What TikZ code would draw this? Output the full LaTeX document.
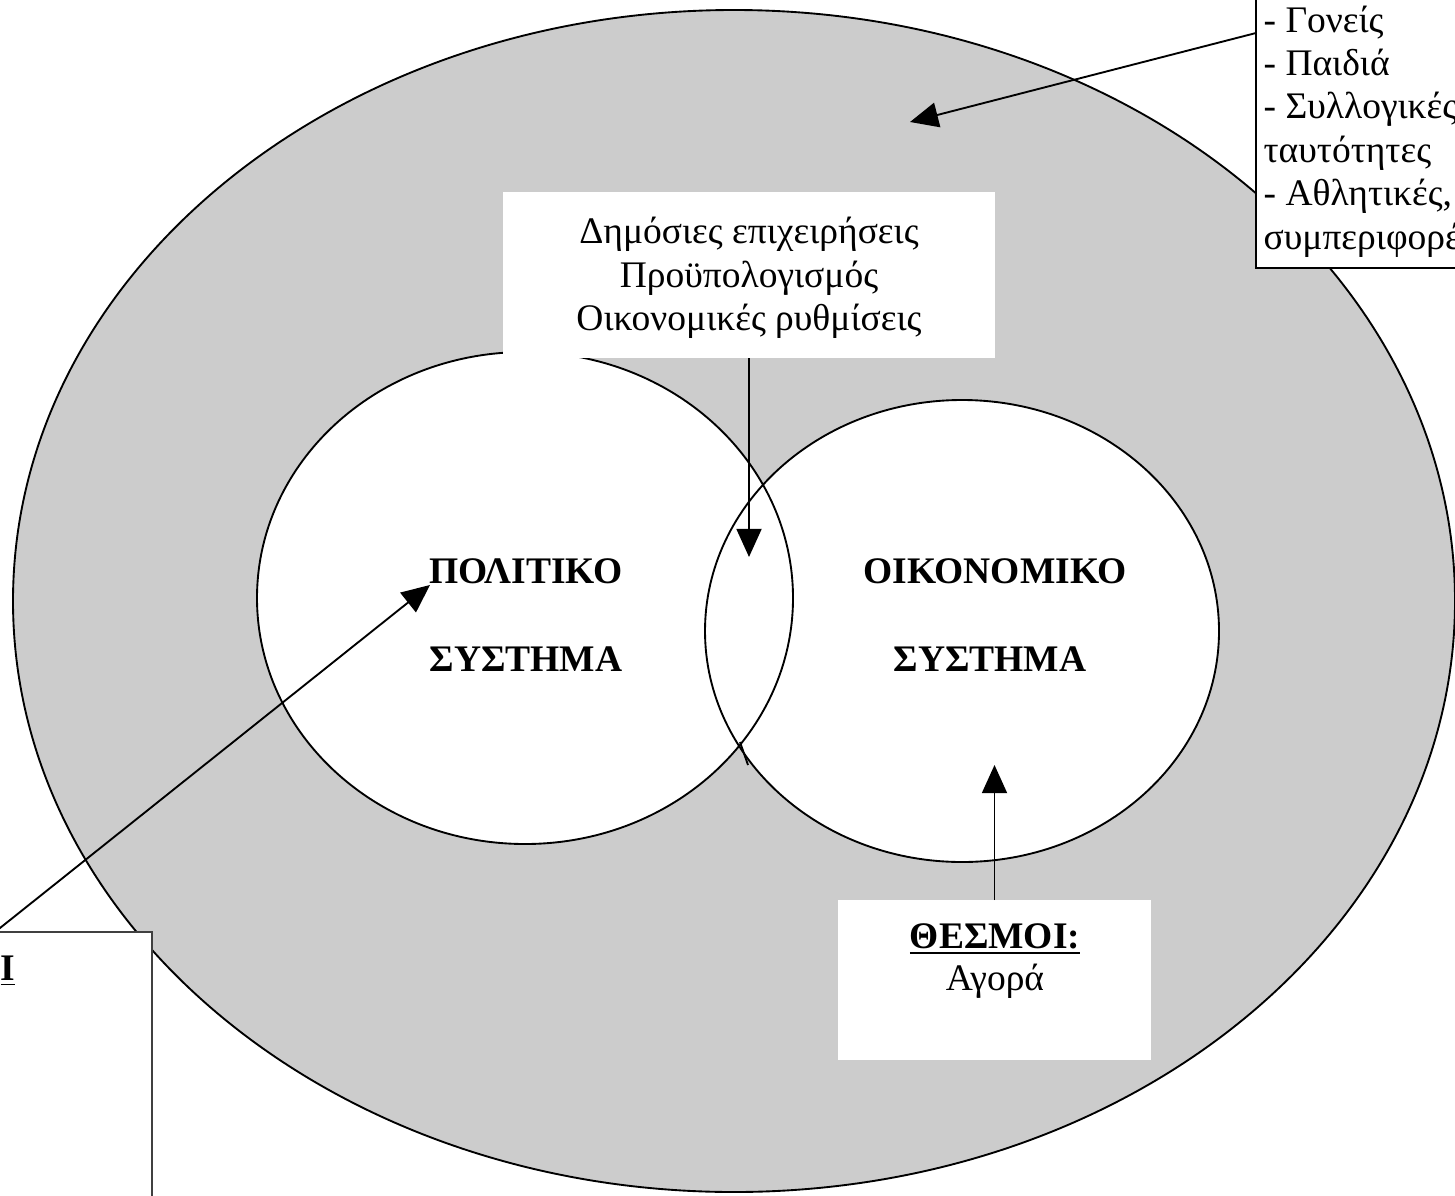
\documentclass[tikz,border=0pt]{standalone}
\usepackage{fontspec}
\setmainfont{Liberation Serif}
\usetikzlibrary{arrows.meta}
\definecolor{shade}{gray}{0.8}
\definecolor{boxline}{gray}{0.25}
\begin{document}
\begin{tikzpicture}[x=0.32pt,y=-0.32pt,
  outl/.style={draw=black,line width=0.6pt},
  arr/.style={draw=black,line width=0.6pt,-{Triangle[length=9pt,width=8pt]}},
  wbox/.style={fill=white,draw=none,inner sep=0pt,outer sep=0pt},
  txt/.style={font=\fontsize{12}{13.8}\selectfont,inner sep=0pt,anchor=base},
  btxt/.style={font=\fontsize{12}{13.8}\selectfont\bfseries,inner sep=0pt,anchor=base},
  ltxt/.style={font=\fontsize{12}{13.8}\selectfont,inner sep=0pt,anchor=base west}]
\useasboundingbox (0,0) rectangle (1455,1195);
\clip (0,0) rectangle (1455,1195);
% big society ellipse
\draw[outl,fill=shade] (734,601) ellipse [x radius=721, y radius=591];
% two systems
\fill[white] (525,598) ellipse [x radius=268, y radius=246];
\fill[white] (962,631) ellipse [x radius=257, y radius=231];
\draw[outl] (525,598) ellipse [x radius=268, y radius=246];
\draw[outl] (962,631) ellipse [x radius=257, y radius=231];
\coordinate (stubA) at (740,742);
\coordinate (stubB) at (748,765);
\draw[outl] (stubA) -- (stubB);
% boxes
\node[wbox,minimum width={492*0.32pt},minimum height={166*0.32pt}] (topbox) at (749,275) {};
\node[wbox,minimum width={313*0.32pt},minimum height={160*0.32pt}] (thesbox) at (994.5,980) {};
\node[wbox,draw=boxline,line width=0.6pt,minimum width={157*0.32pt},minimum height={278*0.32pt}] (lbox) at (73.5,1071) {};
\node[wbox,draw=black,line width=0.6pt,minimum width={210*0.32pt},minimum height={288*0.32pt}] (rbox) at (1361,124) {};
% texts
\node[txt] (t1) at (749,243) {Δημόσιες επιχειρήσεις};
\node[txt] (t2) at (749,287) {Προϋπολογισμός};
\node[txt] (t3) at (749,330) {Οικονομικές ρυθμίσεις};
\node[btxt] (p1) at (526,583) {ΠΟΛΙΤΙΚΟ};
\node[btxt] (p2) at (526,671) {ΣΥΣΤΗΜΑ};
\node[btxt] (o1) at (995,583) {ΟΙΚΟΝΟΜΙΚΟ};
\node[btxt] (o2) at (990,671) {ΣΥΣΤΗΜΑ};
\node[btxt] (th1) at (995,948) {\underline{ΘΕΣΜΟΙ:}};
\node[txt] (th2) at (995,990) {Αγορά};
\node[font=\fontsize{12}{13.8}\selectfont\bfseries,inner sep=0pt,anchor=base west] (li) at (0,980) {\underline{Ι}};
\node[ltxt] (r1) at (1263,32) {- Γονείς};
\node[ltxt] (r2) at (1263,75) {- Παιδιά};
\node[ltxt] (r3) at (1263,118.5) {- Συλλογικές};
\node[ltxt] (r4) at (1263,162) {ταυτότητες};
\node[ltxt] (r5) at (1263,205.5) {- Αθλητικές,};
\node[ltxt] (r6) at (1263,249) {συμπεριφορές};
% arrows
\coordinate (rstart) at (1256,33);
\coordinate (rtip) at (910,122);
\coordinate (ptip) at (430,585);
\coordinate (mtip) at (749,557);
\coordinate (otip) at (994.5,765);
\draw[arr] (rstart) -- (rtip);
\draw[arr] (lbox.north west) -- (ptip);
\draw[arr] (topbox.south) -- (mtip);
\draw[arr] (thesbox.north) -- (otip);
\end{tikzpicture}
\end{document}
